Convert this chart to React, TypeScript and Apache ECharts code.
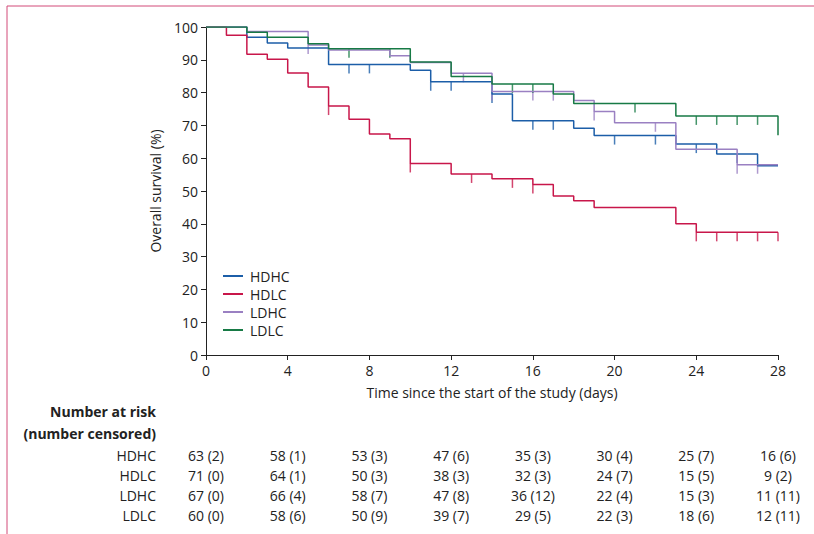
import React, { useRef, useEffect } from 'react'
import * as echarts from 'echarts'

const groups = ['HDHC', 'HDLC', 'LDHC', 'LDLC']
const colors = ['#1c5ea8', '#c8164a', '#9a80c2', '#177a45']

// [day, survival %] step points
const hdhcSteps = [[0, 100], [2, 96.9], [3, 95.1], [4, 93.6], [6, 88.6], [10, 86.8], [11, 83.3], [14, 79.6], [15, 71.4], [18, 69.1], [19, 66.9], [23, 64.3], [25, 61.3], [27, 57.7], [28, 57.7]]
const hdlcSteps = [[0, 100], [1, 97.5], [2, 91.7], [3, 90.2], [4, 86], [5, 81.7], [6, 75.9], [7, 71.9], [8, 67.4], [9, 65.9], [10, 58.4], [12, 55.2], [14, 53.7], [16, 52], [17, 48.5], [18, 47], [19, 45], [23, 40], [24, 37.4], [28, 37.4]]
const ldhcSteps = [[0, 100], [2, 98.6], [5, 94.5], [6, 93], [9, 91.2], [10, 89.2], [12, 85.9], [14, 80.3], [18, 77.6], [19, 74.2], [20, 70.8], [23, 62.7], [26, 58], [28, 58]]
const ldlcSteps = [[0, 100], [2, 98.4], [3, 96.9], [5, 94.9], [6, 93.4], [10, 89.3], [12, 84.9], [14, 82.6], [17, 79.6], [18, 76.7], [23, 72.9], [28, 72.9], [28, 67]]

// censoring days
const hdhcCensor = [7, 8, 11, 12, 14, 16, 17, 20, 22, 24, 26]
const hdlcCensor = [6, 10, 13, 15, 16, 24, 25, 26, 27, 28]
const ldhcCensor = [5, 12.6, 14, 16, 17, 19, 22, 26, 27]
const ldlcCensor = [7, 9, 15, 16, 21, 24, 25, 26, 27]

const riskDays = [0, 4, 8, 12, 16, 20, 24, 28]
const riskHDHC = ['63 (2)', '58 (1)', '53 (3)', '47 (6)', '35 (3)', '30 (4)', '25 (7)', '16 (6)']
const riskHDLC = ['71 (0)', '64 (1)', '50 (3)', '38 (3)', '32 (3)', '24 (7)', '15 (5)', '9 (2)']
const riskLDHC = ['67 (0)', '66 (4)', '58 (7)', '47 (8)', '36 (12)', '22 (4)', '15 (3)', '11 (11)']
const riskLDLC = ['60 (0)', '58 (6)', '50 (9)', '39 (7)', '29 (5)', '22 (3)', '18 (6)', '12 (11)']

const font = 'Open Sans'
const fs = 14

function valueAt(steps: number[][], d: number) {
  let v = steps[0][1]
  for (const [x, y] of steps) if (x <= d) v = y
  return v
}

function App() {
  const chartRef = useRef(null)

  useEffect(() => {
    const chart = echarts.init(chartRef.current, null, { renderer: 'svg' })
    const steps = [hdhcSteps, hdlcSteps, ldhcSteps, ldlcSteps]
    const censors = [hdhcCensor, hdlcCensor, ldhcCensor, ldlcCensor]
    const risks = [riskHDHC, riskHDLC, riskLDHC, riskLDLC]
    const x0 = 206, x1 = 778
    const px = (d: number) => x0 + ((x1 - x0) * d) / 28

    const graphics: any[] = [
      { type: 'line', shape: { x1: 7, y1: 6, x2: 7, y2: 534 }, style: { stroke: '#d24a78', lineWidth: 1 } },
      { type: 'line', shape: { x1: 7, y1: 6, x2: 814, y2: 6 }, style: { stroke: '#d24a78', lineWidth: 1 } },
      { type: 'text', x: 156, y: 411, style: { text: 'Number at risk', font: `bold ${fs}px ${font}`, align: 'right', verticalAlign: 'middle', fill: '#222' } },
      { type: 'text', x: 156, y: 433, style: { text: '(number censored)', font: `bold ${fs}px ${font}`, align: 'right', verticalAlign: 'middle', fill: '#222' } },
    ]
    groups.forEach((g, i) => {
      const y = 455 + i * 20
      graphics.push({ type: 'text', x: 156, y, style: { text: g, font: `${fs}px ${font}`, align: 'right', verticalAlign: 'middle', fill: '#222' } })
      riskDays.forEach((d, j) => {
        graphics.push({ type: 'text', x: px(d), y, style: { text: risks[i][j], font: `${fs}px ${font}`, align: 'center', verticalAlign: 'middle', fill: '#222' } })
      })
    })

    const series: any[] = []
    groups.forEach((g, i) => {
      series.push({
        name: g, type: 'line', step: 'end', data: steps[i], symbol: 'none',
        lineStyle: { color: colors[i], width: 1.5 }, itemStyle: { color: colors[i] },
      })
      series.push({
        name: g + ' censored', type: 'scatter', symbol: 'rect', symbolSize: [1.5, 9], symbolOffset: [0, 4.5],
        data: censors[i].map((d) => [d, valueAt(steps[i], d)]),
        itemStyle: { color: colors[i] }, silent: true,
      })
    })

    const option = {
      animation: false,
      textStyle: { fontFamily: font },
      grid: { left: 206, right: 36, top: 27, bottom: 179 },
      legend: {
        data: groups, orient: 'vertical', left: 218, top: 264, itemGap: 4,
        icon: 'path://M0,0 L20,0 L20,2 L0,2 Z', itemWidth: 24, itemHeight: 2,
        textStyle: { fontSize: fs, color: '#222', fontFamily: font },
      },
      xAxis: {
        type: 'value', min: 0, max: 28, interval: 4,
        name: 'Time since the start of the study (days)', nameLocation: 'middle', nameGap: 30,
        nameTextStyle: { fontSize: fs, color: '#222' },
        axisLine: { lineStyle: { color: '#222' } }, axisTick: { length: 5, lineStyle: { color: '#222' } },
        axisLabel: { fontSize: fs, color: '#222' }, splitLine: { show: false },
      },
      yAxis: {
        type: 'value', min: 0, max: 100, interval: 10,
        name: 'Overall survival (%)', nameLocation: 'middle', nameGap: 44,
        nameTextStyle: { fontSize: fs, color: '#222' },
        axisLine: { show: true, lineStyle: { color: '#222' } }, axisTick: { show: true, length: 5, lineStyle: { color: '#222' } },
        axisLabel: { fontSize: fs, color: '#222' }, splitLine: { show: false },
      },
      graphic: graphics,
      series,
    }
    chart.setOption(option)
    return () => {
      chart.dispose()
    }
  }, [])

  return <div ref={chartRef} style={{ width: 814, height: 534, position: 'absolute', left: 0, top: 0 }}></div>
}

export default App
